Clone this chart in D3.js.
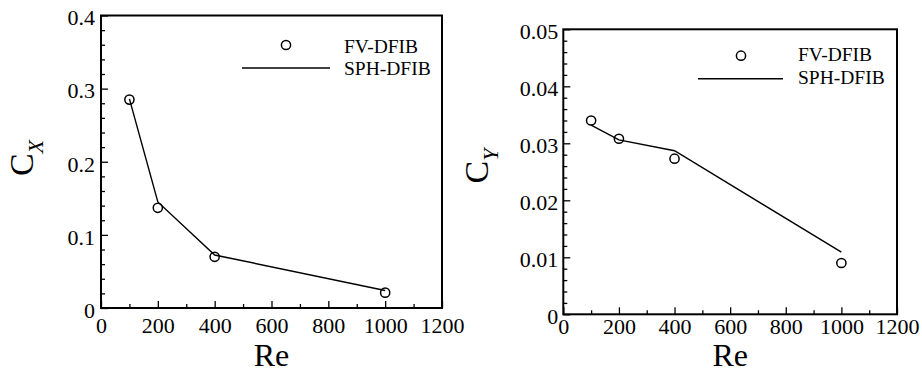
<!DOCTYPE html>
<html>
<head>
<meta charset="utf-8">
<script src="https://cdn.jsdelivr.net/npm/d3@7"></script>
<style>
html,body{margin:0;padding:0;background:#fff;}
svg{display:block;}
text{font-family:"Liberation Serif","Times New Roman",serif;fill:#000;}
</style>
</head>
<body>
<svg id="chart" width="922" height="373"></svg>
<script>
// ---- data ----
const reValues = [100, 200, 400, 1000];
const cxFV  = [0.285, 0.137, 0.070, 0.021];
const cxSPH = [0.286, 0.145, 0.0725, 0.024];
const cyFV  = [0.0340, 0.0308, 0.0273, 0.0090];
const cySPH = [0.0332, 0.0306, 0.0287, 0.0109];
const xTicks = [0, 200, 400, 600, 800, 1000, 1200];
const xMinorTicks = [100, 300, 500, 700, 900, 1100];
const cxTicks = [0, 0.1, 0.2, 0.3, 0.4];
const cxMinorTicks = [0.02,0.04,0.06,0.08,0.12,0.14,0.16,0.18,0.22,0.24,0.26,0.28,0.32,0.34,0.36,0.38];
const cyTicks = [0, 0.01, 0.02, 0.03, 0.04, 0.05];
const cyMinorTicks = [0.002,0.004,0.006,0.008,0.012,0.014,0.016,0.018,0.022,0.024,0.026,0.028,0.032,0.034,0.036,0.038,0.042,0.044,0.046,0.048];
const legendLabels = ["FV-DFIB", "SPH-DFIB"];

const FONT = '"Liberation Serif","Times New Roman",serif';
const svg = d3.select("#chart").style("font-family", FONT);

function panel(cfg) {
  const g = svg.append("g");
  const x = d3.scaleLinear().domain([0, 1200]).range([cfg.left, cfg.right]);
  const y = d3.scaleLinear().domain(cfg.yDomain).range([cfg.bottom, cfg.top]);
  const fmt = v => v === 0 ? "0" : String(v);

  // minor ticks
  g.append("g").attr("transform", `translate(0,${cfg.bottom})`)
    .call(d3.axisBottom(x).tickValues(xMinorTicks).tickSize(-4).tickFormat(""))
    .call(a => a.select(".domain").remove())
    .call(a => a.selectAll("line").attr("stroke", "#000").attr("stroke-width", 1.3));
  g.append("g").attr("transform", `translate(${cfg.left},0)`)
    .call(d3.axisLeft(y).tickValues(cfg.yMinor).tickSize(-4).tickFormat(""))
    .call(a => a.select(".domain").remove())
    .call(a => a.selectAll("line").attr("stroke", "#000").attr("stroke-width", 1.3));

  // major ticks + labels
  g.append("g").attr("transform", `translate(0,${cfg.bottom})`)
    .call(d3.axisBottom(x).tickValues(xTicks).tickSize(-7).tickPadding(cfg.xPad).tickFormat(fmt))
    .call(a => a.select(".domain").remove())
    .call(a => a.selectAll("line").attr("stroke", "#000").attr("stroke-width", 1.3))
    .call(a => a.selectAll("text").style("font-size", "22px")
      .style("font-family", FONT).attr("fill", "#000"));
  g.append("g").attr("transform", `translate(${cfg.left},0)`)
    .call(d3.axisLeft(y).tickValues(cfg.yTicks).tickSize(-7).tickPadding(cfg.yPad).tickFormat(fmt))
    .call(a => a.select(".domain").remove())
    .call(a => a.selectAll("line").attr("stroke", "#000").attr("stroke-width", 1.3))
    .call(a => a.selectAll("text").style("font-size", "22px").attr("dy", "0.42em")
      .style("font-family", FONT).attr("fill", "#000"));

  // frame
  g.append("rect").attr("x", cfg.left).attr("y", cfg.top)
    .attr("width", cfg.right - cfg.left).attr("height", cfg.bottom - cfg.top)
    .attr("fill", "none").attr("stroke", "#000").attr("stroke-width", 2);

  // SPH line
  const line = d3.line().x((d, i) => x(reValues[i])).y(d => y(d));
  g.append("path").datum(cfg.sph).attr("d", line)
    .attr("fill", "none").attr("stroke", "#000").attr("stroke-width", 1.4);

  // FV circles
  g.selectAll("circle.fv").data(cfg.fv).enter().append("circle")
    .attr("class", "fv")
    .attr("cx", (d, i) => x(reValues[i])).attr("cy", d => y(d)).attr("r", 4.6)
    .attr("fill", "none").attr("stroke", "#000").attr("stroke-width", 1.5);

  // legend
  const L = cfg.legend;
  g.append("circle").attr("cx", L.cx).attr("cy", L.cy).attr("r", 4.6)
    .attr("fill", "none").attr("stroke", "#000").attr("stroke-width", 1.5);
  g.append("line").attr("x1", L.lx1).attr("x2", L.lx2).attr("y1", L.ly).attr("y2", L.ly)
    .attr("stroke", "#000").attr("stroke-width", 1.4);
  g.append("text").attr("x", L.tx).attr("y", L.t1y).style("font-size", "19.5px").style("font-family", FONT).text(legendLabels[0]);
  g.append("text").attr("x", L.tx).attr("y", L.t2y).style("font-size", "19.5px").style("font-family", FONT).text(legendLabels[1]);

  // x title
  g.append("text").attr("x", (cfg.left + cfg.right) / 2).attr("y", cfg.xTitleY)
    .attr("text-anchor", "middle").style("font-size", "32px").style("font-family", FONT).text("Re");

  // y title
  const yt = g.append("text")
    .attr("transform", `translate(${cfg.yTitleX},${cfg.yTitleY}) rotate(-90)`)
    .attr("text-anchor", "middle").style("font-size", "34px").style("font-family", FONT);
  yt.append("tspan").text("C");
  yt.append("tspan").style("font-size", "22px").style("font-style", "italic").attr("dy", 10).text(cfg.sub);
}

panel({
  left: 101, right: 442, top: 15.5, bottom: 308,
  yDomain: [0, 0.4], yTicks: cxTicks, yMinor: cxMinorTicks,
  xPad: 9, yPad: 6,
  fv: cxFV, sph: cxSPH,
  legend: { cx: 286, cy: 45, lx1: 242, lx2: 330, ly: 68, tx: 344, t1y: 53, t2y: 75 },
  xTitleY: 366, yTitleX: 33, yTitleY: 158, sub: "X"
});

panel({
  left: 563.3, right: 897, top: 29.3, bottom: 314.3,
  yDomain: [0, 0.05], yTicks: cyTicks, yMinor: cyMinorTicks,
  xPad: 4, yPad: 5,
  fv: cyFV, sph: cySPH,
  legend: { cx: 741, cy: 55.7, lx1: 698, lx2: 783, ly: 78.7, tx: 798, t1y: 61, t2y: 84 },
  xTitleY: 366, yTitleX: 488, yTitleY: 166, sub: "Y"
});
</script>
</body>
</html>
